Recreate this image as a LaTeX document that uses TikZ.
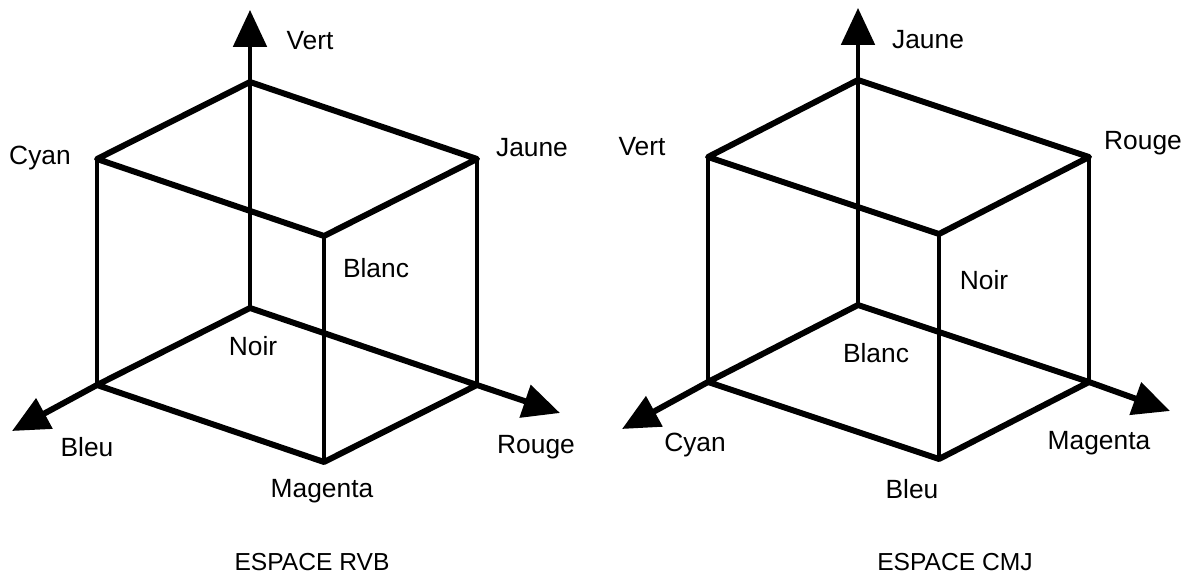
\documentclass[tikz,border=0pt]{standalone}
\usepackage{fontspec}
\setmainfont{Liberation Sans}
\usetikzlibrary{arrows.meta}

\begin{document}
\begin{tikzpicture}[x=0.02cm, y=-0.02cm]

\tikzset{thin edge/.style = {line width=2.2pt}}
\tikzset{thick edge/.style = {line width=3.4pt, line join=round}}
\tikzset{axis/.style = {-{Triangle[length=21pt, width=19pt]}}}
\tikzset{lbl/.style = {font=\fontsize{15}{18}\selectfont, inner sep=0pt}}
\tikzset{title/.style = {font=\fontsize{14}{17}\selectfont, inner sep=0pt}}

\useasboundingbox (0,0) rectangle (1195,580);

%corners RVB
\coordinate (l0) at (250,308);
\coordinate (lr) at (477,385);
\coordinate (lb) at (97,385);
\coordinate (lm) at (324,462);
\coordinate (lk) at (250,82);
\coordinate (lc) at (97,159);
\coordinate (lj) at (477,159);
\coordinate (lw) at (324,236);
\coordinate (lvt) at (250,10);
\coordinate (lbt) at (12,431);
\coordinate (lrt) at (560,413);
%corners CMJ
\coordinate (r0) at (858,305);
\coordinate (rm) at (1089,382);
\coordinate (rc) at (708,382);
\coordinate (rb) at (939,459);
\coordinate (rk) at (858,80);
\coordinate (rv) at (708,157);
\coordinate (rr) at (1089,157);
\coordinate (rn) at (939,234);
\coordinate (rjt) at (858,8);
\coordinate (rct) at (622,429);
\coordinate (rmt) at (1170,411);

%edges RVB
\draw[thin edge] (lc) -- (lb);
\draw[thin edge] (lj) -- (lr);
\draw[thin edge] (lw) -- (lm);
\draw[thin edge, axis] (l0) -- (lvt);
\draw[thick edge] (lk) -- (lc) -- (lw) -- (lj) -- cycle;
\draw[thick edge] (l0) -- (lb) -- (lm) -- (lr) -- cycle;
\draw[thick edge, axis] (lb) -- (lbt);
\draw[thick edge, axis] (lr) -- (lrt);
%edges CMJ
\draw[thin edge] (rv) -- (rc);
\draw[thin edge] (rr) -- (rm);
\draw[thin edge] (rn) -- (rb);
\draw[thin edge, axis] (r0) -- (rjt);
\draw[thick edge] (rk) -- (rv) -- (rn) -- (rr) -- cycle;
\draw[thick edge] (r0) -- (rc) -- (rb) -- (rm) -- cycle;
\draw[thick edge, axis] (rc) -- (rct);
\draw[thick edge, axis] (rm) -- (rmt);

%labels RVB
\node[lbl] (vert1) at (310,41) {Vert};
\node[lbl] (cyan1) at (40,158) {Cyan};
\node[lbl] (jaune1) at (532,148) {Jaune};
\node[lbl] (blanc1) at (376,268) {Blanc};
\node[lbl] (noir1) at (253,346) {Noir};
\node[lbl] (bleu1) at (87,447) {Bleu};
\node[lbl] (rouge1) at (536,447) {Rouge};
\node[lbl] (magenta1) at (322,491) {Magenta};
\node[title] (rvb) at (312,562) {ESPACE RVB};
%labels CMJ
\node[lbl] (jaune2) at (928,40) {Jaune};
\node[lbl] (vert2) at (642,147) {Vert};
\node[lbl] (rouge2) at (1143,143) {Rouge};
\node[lbl] (noir2) at (984,280) {Noir};
\node[lbl] (blanc2) at (876,353) {Blanc};
\node[lbl] (cyan2) at (695,445) {Cyan};
\node[lbl] (bleu2) at (912,489) {Bleu};
\node[lbl] (magenta2) at (1099,443) {Magenta};
\node[title] (cmj) at (955,562) {ESPACE CMJ};

\end{tikzpicture}
\end{document}
